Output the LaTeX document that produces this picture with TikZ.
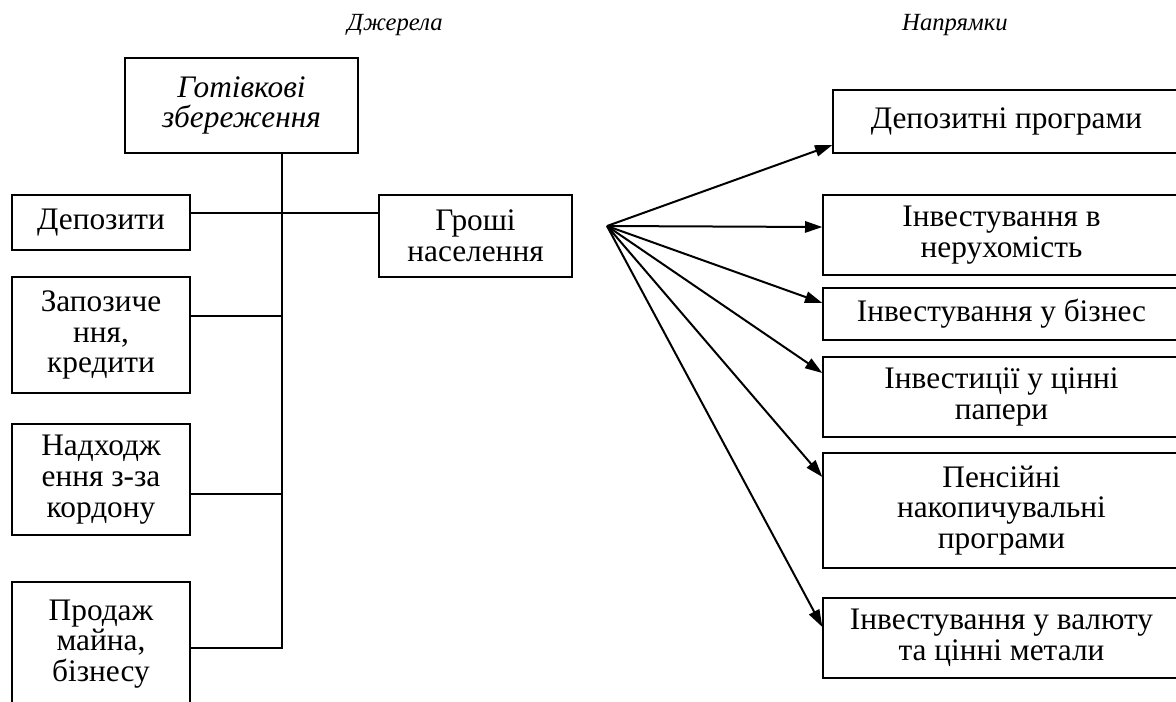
\documentclass[tikz,border=0pt]{standalone}
\usepackage{fontspec}
\setmainfont{Liberation Serif}
\usetikzlibrary{arrows.meta}
\begin{document}
\begin{tikzpicture}[x=0.75pt,y=-0.75pt,
  box/.style={draw, line width=1pt, rectangle, inner sep=0pt, align=center, font=\fontsize{23.5}{23}\selectfont},
  conn/.style={line width=1.4pt},
  arr/.style={line width=1.5pt, -{Triangle[length=13pt,width=8.5pt]}},
  head/.style={font=\fontsize{18.5}{20}\selectfont\itshape}]
\useasboundingbox (0,0) rectangle (1176,701);
% headers
\node[head] (hsrc) at (395,25) {Джерела};
\node[head] (hdir) at (955,25) {Напрямки};
% left side
\node[box, minimum width=174.75pt, minimum height=71.25pt, font=\fontsize{23.5}{23}\selectfont\itshape] (top) at (241.5,105.5) {Готівкові\\збереження};
\node[box, minimum width=133.5pt, minimum height=41.25pt] (dep) at (101,222.5) {Депозити};
\node[box, minimum width=133.5pt, minimum height=87pt] (zap) at (101,335) {Запозиче\\ння,\\кредити};
\node[box, minimum width=133.5pt, minimum height=83.25pt] (nad) at (101,479.5) {Надходж\\ення з-за\\кордону};
\node[box, minimum width=133.5pt, minimum height=93pt] (prod) at (101,644) {Продаж\\майна,\\бізнесу};
\node[box, minimum width=144.75pt, minimum height=61.5pt] (money) at (475.5,236) {Гроші\\населення};
% right side
\node[box, minimum width=260.25pt, minimum height=47.25pt] (b1) at (1006.5,121.5) {Депозитні програми};
\node[box, minimum width=267.75pt, minimum height=60pt] (b2) at (1001.5,235) {Інвестування в\\нерухомість};
\node[box, minimum width=267.75pt, minimum height=39pt] (b3) at (1001.5,314) {Інвестування у бізнес};
\node[box, minimum width=267.75pt, minimum height=60pt] (b4) at (1001.5,397) {Інвестиції у цінні\\папери};
\node[box, minimum width=267.75pt, minimum height=86.25pt] (b5) at (1001.5,510.5) {Пенсійні\\накопичувальні\\програми};
\node[box, minimum width=267.75pt, minimum height=60pt] (b6) at (1001.5,638) {Інвестування у валюту\\та цінні метали};
% helper coordinates
\coordinate (sp) at (282,0);
\coordinate (y1) at (0,213);
\coordinate (y2) at (0,316);
\coordinate (y3) at (0,494);
\coordinate (y4) at (0,648);
\coordinate (fan) at (607,226);
\coordinate (t1) at (0,145);
\coordinate (t2) at (0,227);
\coordinate (t3) at (0,303);
\coordinate (t4) at (0,373);
\coordinate (t5) at (0,477);
\coordinate (t6) at (0,627);
% connectors
\draw[conn] (dep.east |- y1) -- (money.west |- y1);
\draw[conn] (zap.east |- y2) -- (sp |- y2);
\draw[conn] (nad.east |- y3) -- (sp |- y3);
\draw[conn] (top.south -| sp) -- (sp |- y4) -- (prod.east |- y4);
\draw[arr] (fan) -- (b1.west |- t1);
\draw[arr] (fan) -- (b2.west |- t2);
\draw[arr] (fan) -- (b3.west |- t3);
\draw[arr] (fan) -- (b4.west |- t4);
\draw[arr] (fan) -- (b5.west |- t5);
\draw[arr] (fan) -- (b6.west |- t6);
\end{tikzpicture}
\end{document}
